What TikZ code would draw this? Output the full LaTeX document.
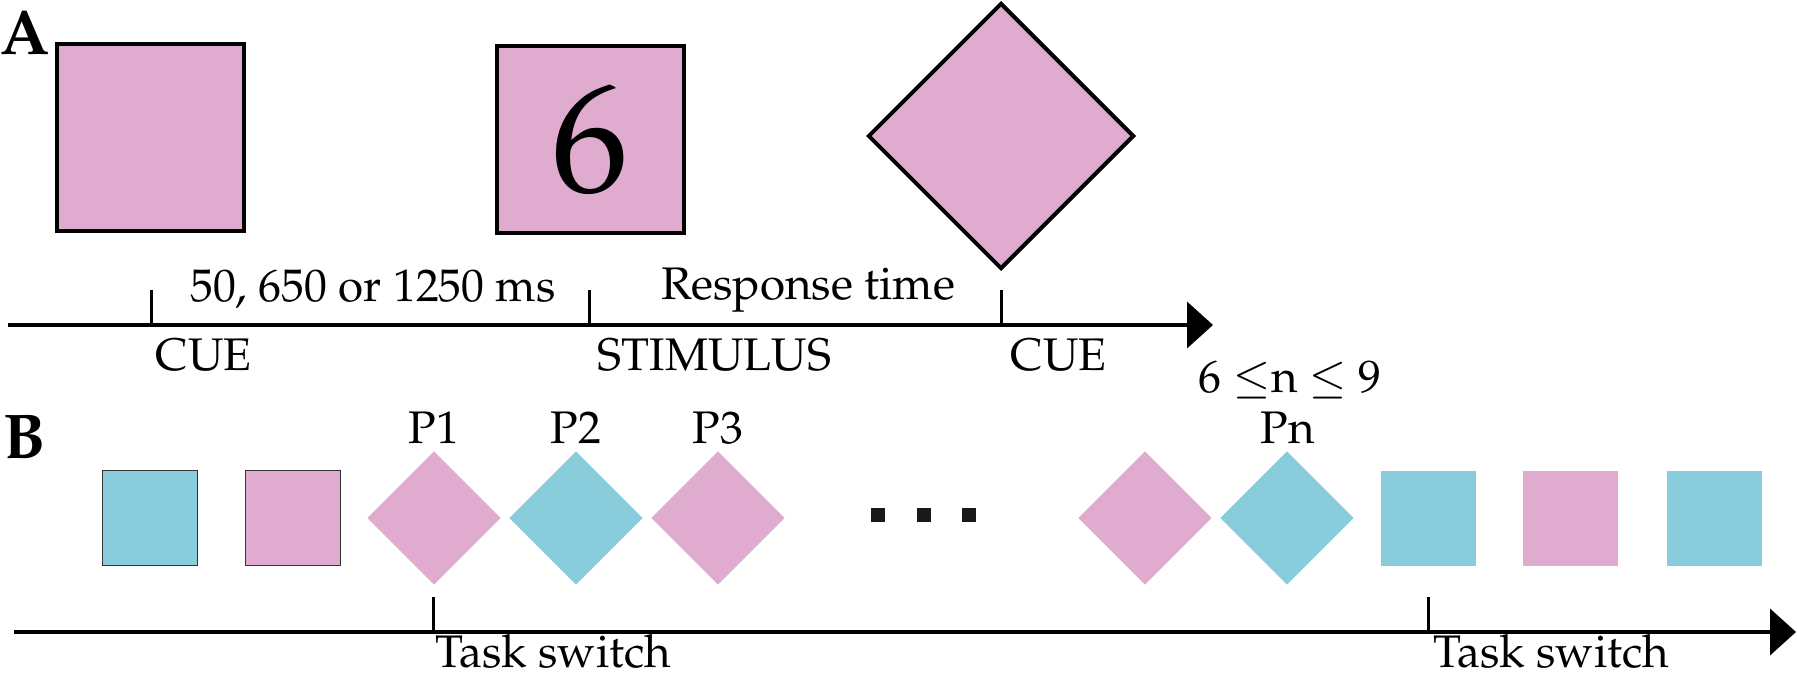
\documentclass[tikz,border=0pt]{standalone}
\usepackage[T1]{fontenc}
\usepackage{mathpazo}
\usetikzlibrary{arrows.meta, positioning, shapes.geometric}
\definecolor{taskpink}{RGB}{223,171,206}
\definecolor{taskcyan}{RGB}{137,205,221}

\begin{document}
\begin{tikzpicture}[
  x=0.1mm, y=-0.1mm,
  every node/.style={font=\fontsize{13}{15}\selectfont, inner sep=0pt},
  panel/.style={font=\fontsize{18}{20}\selectfont\bfseries, anchor=base west},
  bigsq/.style={draw=black, line width=0.4mm, fill=taskpink, minimum size=18.7mm},
  bigdiam/.style={diamond, aspect=1, draw=black, line width=0.4mm, fill=taskpink, minimum width=26.6mm, minimum height=26.6mm},
  smallsq/.style={minimum size=9.5mm},
  smalldiam/.style={diamond, aspect=1, minimum width=13.4mm, minimum height=13.4mm},
  pinkfill/.style={fill=taskpink},
  cyanfill/.style={fill=taskcyan},
  framed/.style={draw=black!80, line width=0.12mm},
  tline/.style={line width=0.4mm, -{Triangle[length=2.6mm, width=4.6mm]}},
  tickline/.style={line width=0.3mm},
  dotbox/.style={fill=black!90, minimum size=1.35mm}
]
  \useasboundingbox (0,0) rectangle (1797,678);

  % panel A
  \node[panel] (la) at (0,55) {A};
  \node[bigsq] (cuesq) at (150,138) {};
  \node[bigsq, font=\fontsize{44}{48}\selectfont] (stim) at (590,140) {6};
  \node[bigdiam] (resp) at (1001,136) {};

  \coordinate (a0) at (8,325);
  \coordinate (a1) at (1213,325);
  \coordinate (ta1) at (151,325);
  \coordinate (ta2) at (589,325);
  \coordinate (ta3) at (1001,325);
  \draw[tline] (a0) -- (a1);
  \foreach \t in {ta1,ta2,ta3}
    \draw[tickline] (\t) -- ++(0,-35);

  \node[anchor=base] (soa) at (373,302) {50, 650 or 1250 ms};
  \node[anchor=base] (rt) at (808,299) {Response time};
  \node[anchor=base west] (cue1) at (155,370) {CUE};
  \node[anchor=base west] (stimlab) at (597,370) {STIMULUS};
  \node[anchor=base west] (cue2) at (1010,370) {CUE};

  % panel B
  \node[panel] (lb) at (3,458) {B};
  \node[smallsq, cyanfill, framed] (s1) at (150,518) {};
  \node[smallsq, pinkfill, framed] (s2) at (293,518) {};
  \node[smalldiam, pinkfill] (p1) at (434,518) {};
  \node[smalldiam, cyanfill] (p2) at (576,518) {};
  \node[smalldiam, pinkfill] (p3) at (718,518) {};
  \node[dotbox] (dot1) at (878,515) {};
  \node[dotbox] (dot2) at (924,515) {};
  \node[dotbox] (dot3) at (969,515) {};
  \node[smalldiam, pinkfill] (pm) at (1145,518) {};
  \node[smalldiam, cyanfill] (pn) at (1287,518) {};
  \node[smallsq, cyanfill] (s3) at (1428,518) {};
  \node[smallsq, pinkfill] (s4) at (1570,518) {};
  \node[smallsq, cyanfill] (s5) at (1714,518) {};

  \node[anchor=base] (lp1) at (434,443) {P1};
  \node[anchor=base] (lp2) at (576,443) {P2};
  \node[anchor=base] (lp3) at (718,443) {P3};
  \node[anchor=base] (lpn) at (1288,443) {Pn};
  \node[anchor=base] (range) at (1290,392) {6 $\leq$n $\leq$ 9};

  \coordinate (b0) at (14,632);
  \coordinate (b1) at (1796,632);
  \coordinate (tb1) at (433,632);
  \coordinate (tb2) at (1428,632);
  \draw[tline] (b0) -- (b1);
  \foreach \t in {tb1,tb2}
    \draw[tickline] (\t) -- ++(0,-35);

  \node[anchor=base west] (sw1) at (435,667) {Task switch};
  \node[anchor=base west] (sw2) at (1433,667) {Task switch};
\end{tikzpicture}
\end{document}
